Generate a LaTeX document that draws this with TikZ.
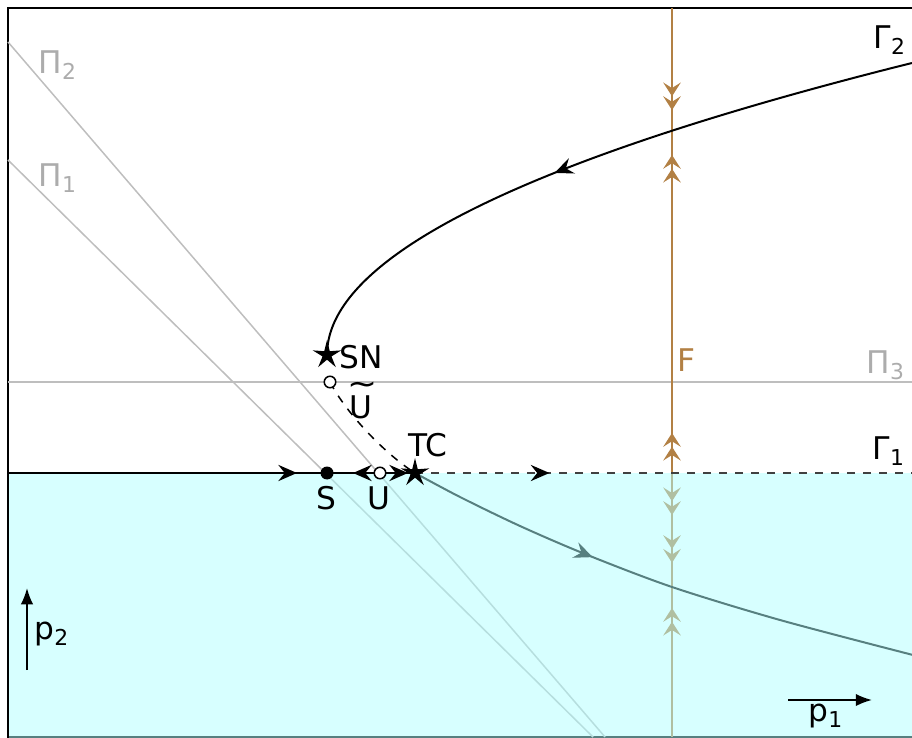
\documentclass[tikz,border=0pt]{standalone}
\usepackage{fontspec}
\setmainfont{DejaVu Sans}
\usepackage{tikz}
\usetikzlibrary{arrows.meta,decorations.markings,shapes.geometric,positioning}
\definecolor{fbrown}{RGB}{178,128,68}
\definecolor{pigray}{RGB}{190,190,190}
\definecolor{pitext}{RGB}{172,172,172}
\definecolor{region}{RGB}{175,255,255}

\begin{document}
\begin{tikzpicture}[x=0.4pt,y=-0.4pt,
        font=\fontsize{12.5pt}{15pt}\selectfont,
        every node/.style={inner sep=0pt},
        flow/.tip={Stealth[length=7.5pt,width=6.5pt,inset=2.6pt]},
        dflow/.tip={Stealth[length=5.5pt,width=7pt,inset=2.2pt,sep=0pt]Stealth[length=5.5pt,width=7pt,inset=2.2pt]},
        fwd/.style={postaction={decorate,decoration={markings,mark=at position #1 with {\arrow[black]{flow}}}}},
        bwd/.style={postaction={decorate,decoration={markings,mark=at position #1 with {\arrowreversed{flow}}}}},
        pi line/.style={pigray, line width=0.6pt},
        branch/.style={line width=0.8pt},
        dotpt/.style={circle, fill, minimum size=5.2pt},
        openpt/.style={circle, draw, fill=white, line width=0.6pt, minimum size=4.6pt},
        starpt/.style={star, star points=5, star point ratio=3.2, fill, minimum size=12pt}]
    \useasboundingbox (0,0) rectangle (912,738);

    % points on the branches
    \coordinate (W) at (8,473);
    \coordinate (E) at (913,473);
    \coordinate (pS) at (327,473);
    \coordinate (pU) at (380,473);
    \coordinate (pTC) at (415,473);
    \coordinate (pSN) at (327,355);
    \coordinate (pUt) at (330,382);
    \coordinate (Ftop) at (672,8);
    \coordinate (Fbot) at (672,737);

    % frame and the lines Pi
    \draw[line width=0.8pt] (914,8) -- (8,8) -- (8,737) -- (914,737);
    \draw[pi line] (8,42) -- (605,737);
    \draw[pi line] (8,160) -- (593,737);
    \draw[pi line] (8,382) -- (913,382);

    % F
    \draw[fbrown, line width=0.8pt, postaction={decorate}, decoration={markings,
        mark=at position 0.140 with {\arrow{dflow}},
        mark=at position 0.2016 with {\arrowreversed{dflow}},
        mark=at position 0.583 with {\arrowreversed{dflow}},
        mark=at position 0.6955 with {\arrow{dflow}},
        mark=at position 0.761 with {\arrow{dflow}},
        mark=at position 0.823 with {\arrowreversed{dflow}}}] (Ftop) -- (Fbot);

    % branch below Gamma_1
    \draw[branch, fwd=0.37] plot[smooth] coordinates
        {(pTC) (460,497) (520,526) (585,554) (672,587) (780,620) (913,655)};

    \fill[region, fill opacity=0.5] (9,473) rectangle (913,738);

    % Gamma_1
    \draw[branch, fwd=0.906] (W) -- (pS);
    \draw[branch, bwd=0.49] (pS) -- (pU);
    \draw[branch, fwd=0.8] (pU) -- (pTC);
    \draw[branch, black!75, dash pattern=on 3.2pt off 3.2pt, fwd=0.27] (pTC) -- (E);

    % Gamma_2
    \draw[branch, fwd=0.551] plot[domain=292:0, samples=100, variable=\t]
        ({327+(0.08283*\t)*(0.08283*\t)},{355-\t});

    \draw[line width=0.6pt, dash pattern=on 3.2pt off 3.2pt]
        (pUt) .. controls +(16,31) and +(-30,-19) .. (pTC);

    \node[dotpt] (S) at (pS) {};
    \node[openpt] (U) at (pU) {};
    \node[openpt] (Ut) at (pUt) {};
    \node[starpt] (TC) at (pTC) {};
    \node[starpt] (SN) at (pSN) {};

    % labels
    \node (snlab) at (361,357) {SN};
    \node (utlab) at (361,407)
        {\makebox[0pt][l]{\hspace{-0.9pt}\smash{\raisebox{9.3pt}{\scalebox{1.15}[1]{\textasciitilde}}}}U};
    \node (tclab) at (428,445) {TC};
    \node (slab) at (326,498) {S};
    \node (ulab) at (379,498) {U};
    \node[text=fbrown] (flab) at (686,360) {F};
    \node[text=pitext] (pi3lab) at (886,365) {Π\textsubscript{3}};
    \node (g1lab) at (889,451) {Γ\textsubscript{1}};
    \node (g2lab) at (890,40) {Γ\textsubscript{2}};
    \node[text=pitext] (pi2lab) at (58,65) {Π\textsubscript{2}};
    \node[text=pitext] (pi1lab) at (58,178) {Π\textsubscript{1}};

    % directions p1, p2
    \coordinate (p1a) at (788,700);
    \coordinate (p1b) at (872,700);
    \coordinate (p2a) at (27,670);
    \coordinate (p2b) at (27,588);
    \draw[line width=0.8pt, -{Latex[length=6.5pt,width=5pt]}] (p1a) -- (p1b);
    \draw[line width=0.8pt, -{Latex[length=6.5pt,width=5pt]}] (p2a) -- (p2b);
    \node (p1lab) at (826,716) {p\textsubscript{1}};
    \node (p2lab) at (52,634) {p\textsubscript{2}};
\end{tikzpicture}
\end{document}
